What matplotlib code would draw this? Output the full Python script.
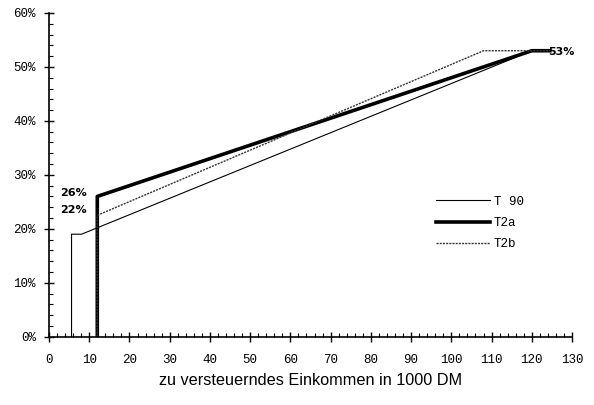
import matplotlib
matplotlib.use("Agg")
import matplotlib.pyplot as plt
from matplotlib.ticker import MultipleLocator, FuncFormatter

# Grenzsteuersaetze (Einkommen in 1000 DM, Satz in %)
t90_x = [5.6, 5.6, 8.1, 120, 124.5]
t90_y = [0, 19, 19, 53, 53]
t2a_x = [12, 12, 120, 124.5]
t2a_y = [0, 26, 53, 53]
t2b_x = [12, 12, 108, 124.5]
t2b_y = [0, 22.5, 53, 53]

mono = "Liberation Mono"

fig = plt.figure(figsize=(5.94, 4.05), dpi=100)
ax = fig.add_axes([0.0825, 0.1686, 0.8805, 0.7994])

ax.plot(t90_x, t90_y, color="black", lw=0.8, label="T 90")
ax.plot(t2a_x, t2a_y, color="black", lw=2.6, label="T2a")
ax.plot(t2b_x, t2b_y, color="#333333", lw=1.0, ls=(0, (1.5, 0.8)), label="T2b")

ax.text(6.0, 26.7, "26%", ha="center", va="center", fontsize=8, fontweight="bold")
ax.text(6.0, 23.4, "22%", ha="center", va="center", fontsize=8, fontweight="bold")
ax.text(127.3, 52.8, "53%", ha="center", va="center", fontsize=8, fontweight="bold")

ax.set_xlim(0, 130)
ax.set_ylim(0, 60)
ax.xaxis.set_major_locator(MultipleLocator(10))
ax.xaxis.set_minor_locator(MultipleLocator(2))
ax.yaxis.set_major_locator(MultipleLocator(10))
ax.yaxis.set_minor_locator(MultipleLocator(2))
ax.yaxis.set_major_formatter(FuncFormatter(lambda v, p: f"{v:.0f}%"))

for s in ["top", "right"]:
    ax.spines[s].set_visible(False)
for s in ["left", "bottom"]:
    ax.spines[s].set_linewidth(1.2)

ax.tick_params(which="major", direction="inout", length=7, width=1, pad=6)
ax.tick_params(which="minor", direction="in", length=3, width=0.8)
ax.tick_params(axis="x", which="major", pad=9)
for lab in ax.get_xticklabels() + ax.get_yticklabels():
    lab.set_fontfamily(mono)
    lab.set_fontsize(9)

ax.set_xlabel("zu versteuerndes Einkommen in 1000 DM", fontsize=11.7,
              family="Liberation Sans", labelpad=5)

leg = ax.legend(loc="upper left", bbox_to_anchor=(0.728, 0.455), frameon=False,
                handlelength=4.3, handletextpad=0.3, labelspacing=0.75,
                borderpad=0, prop={"family": mono, "size": 9})

fig.savefig("out.png", dpi=100)
